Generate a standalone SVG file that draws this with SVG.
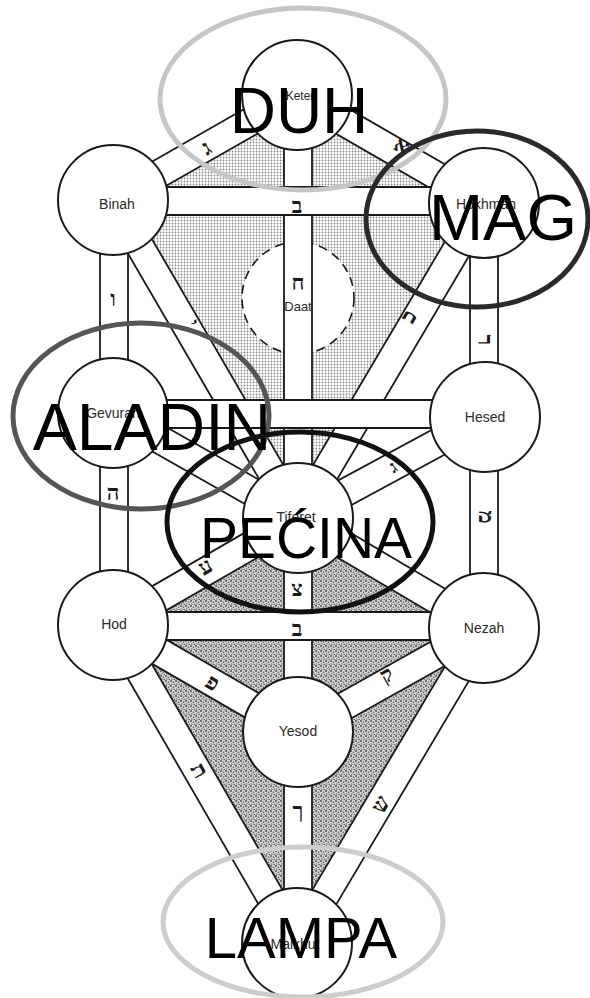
<svg xmlns="http://www.w3.org/2000/svg" width="590" height="998" viewBox="0 0 590 998">
<defs>
<pattern id="dots1" width="3" height="3" patternUnits="userSpaceOnUse"><rect width="3" height="3" fill="#fff"/><circle cx="1.5" cy="1.5" r="0.9" fill="#888"/></pattern>
<pattern id="dots2" width="5" height="5" patternUnits="userSpaceOnUse"><rect width="5" height="5" fill="#d4d4d4"/><circle cx="1" cy="1" r="0.9" fill="#444"/><circle cx="3.5" cy="2.2" r="0.8" fill="#555"/><circle cx="1.8" cy="4" r="0.7" fill="#666"/><circle cx="4.2" cy="4.4" r="0.6" fill="#333"/></pattern>
<style>
.bf{fill:#fff;stroke:none}
.be{stroke:#1a1a1a;stroke-width:1.8;fill:none}
.hb{fill:#fff;stroke:none}
.node{fill:#fff;stroke:#1a1a1a;stroke-width:2}
.lbl{font-family:'Liberation Sans',Arial,sans-serif;font-size:14px;fill:#2a2a2a;text-anchor:middle}
.heb{font-family:'Liberation Serif','DejaVu Sans',serif;font-size:22px;fill:#1a1a1a;text-anchor:middle;font-weight:bold}
.big{font-family:'Liberation Sans',Arial,sans-serif;fill:#000;text-anchor:middle}
.ov{fill:none;stroke-width:5}
</style>
</defs>
<rect width="590" height="998" fill="#fff"/>
<g id="shading">
<polygon points="297,95 484,203 298,518 113,200" fill="url(#dots1)"/>
<polygon points="298,518 484,628 297,943 113,625" fill="url(#dots2)"/>
</g>
<g id="daat">
<circle cx="298" cy="298" r="56" fill="#fff" stroke="#1a1a1a" stroke-width="1.6" stroke-dasharray="9 6"/>
</g>
<g id="connectors">
<g id="connector-fills">
<rect class="bf" x="284" y="95" width="28" height="423"/>
<rect class="bf" x="284" y="518" width="28" height="425"/>
<rect class="bf" x="100" y="200" width="28" height="425"/>
<rect class="bf" x="470" y="203" width="28" height="425"/>
<rect class="bf" x="0" y="-14" width="212" height="28" transform="translate(297,95) rotate(150.28)"/>
<rect class="bf" x="0" y="-14" width="216" height="28" transform="translate(297,95) rotate(30.01)"/>
<rect class="bf" x="0" y="-14" width="368" height="28" transform="translate(113,200) rotate(59.81)"/>
<rect class="bf" x="0" y="-14" width="366" height="28" transform="translate(484,203) rotate(120.56)"/>
<rect class="bf" x="0" y="-14" width="213" height="28" transform="translate(113,413) rotate(29.58)"/>
<rect class="bf" x="0" y="-14" width="213" height="28" transform="translate(485,417) rotate(151.63)"/>
<rect class="bf" x="0" y="-14" width="214" height="28" transform="translate(113,625) rotate(-30.04)"/>
<rect class="bf" x="0" y="-14" width="216" height="28" transform="translate(484,628) rotate(-149.4)"/>
<rect class="bf" x="0" y="-14" width="214" height="28" transform="translate(113,625) rotate(30.04)"/>
<rect class="bf" x="0" y="-14" width="213" height="28" transform="translate(484,628) rotate(150.79)"/>
<rect class="bf" x="0" y="-14" width="367" height="28" transform="translate(113,625) rotate(59.94)"/>
<rect class="bf" x="0" y="-14" width="366" height="28" transform="translate(484,628) rotate(120.69)"/>
</g>
<g id="connector-edges">
<path class="be" d="M284,95V943M312,95V943M100,200V625M128,200V625M470,203V628M498,203V628"/>
<path class="be" d="M0,-14H212M0,14H212" transform="translate(297,95) rotate(150.28)"/>
<path class="be" d="M0,-14H216M0,14H216" transform="translate(297,95) rotate(30.01)"/>
<path class="be" d="M0,-14H368M0,14H368" transform="translate(113,200) rotate(59.81)"/>
<path class="be" d="M0,-14H366M0,14H366" transform="translate(484,203) rotate(120.56)"/>
<path class="be" d="M0,-14H213M0,14H213" transform="translate(113,413) rotate(29.58)"/>
<path class="be" d="M0,-14H213M0,14H213" transform="translate(485,417) rotate(151.63)"/>
<path class="be" d="M0,-14H214M0,14H214" transform="translate(113,625) rotate(-30.04)"/>
<path class="be" d="M0,-14H216M0,14H216" transform="translate(484,628) rotate(-149.4)"/>
<path class="be" d="M0,-14H214M0,14H214" transform="translate(113,625) rotate(30.04)"/>
<path class="be" d="M0,-14H213M0,14H213" transform="translate(484,628) rotate(150.79)"/>
<path class="be" d="M0,-14H367M0,14H367" transform="translate(113,625) rotate(59.94)"/>
<path class="be" d="M0,-14H366M0,14H366" transform="translate(484,628) rotate(120.69)"/>
</g>
<g id="connector-horizontals">
<rect class="hb" x="113" y="187" width="371" height="28"/>
<rect class="hb" x="113" y="400" width="372" height="28"/>
<rect class="hb" x="113" y="612" width="371" height="28"/>
<path class="be" d="M113,187H484M113,215H484M113,400H485M113,428H485M113,612H484M113,640H484"/>
</g>
<g id="path-letters">
<text class="heb" transform="translate(210,154) rotate(-30)">ג</text>
<text class="heb" transform="translate(398,152) rotate(30)">א</text>
<text class="heb" x="297" y="213">ב</text>
<text class="heb" x="113" y="306">ו</text>
<text class="heb" transform="translate(188,326) rotate(60)" style="font-size:18px">י</text>
<text class="heb" transform="translate(415,320) rotate(-60)">כ</text>
<text class="heb" transform="translate(478,340) rotate(90)">ר</text>
<text class="heb" x="113" y="500">ה</text>
<text class="heb" transform="translate(479,517) rotate(90)">מ</text>
<text class="heb" transform="translate(396,472) rotate(-30)" style="font-size:18px">ג</text>
<text class="heb" transform="translate(209,573) rotate(-30)">ע</text>
<text class="heb" x="297" y="596">צ</text>
<text class="heb" x="297" y="636">ב</text>
<text class="heb" transform="translate(209,689) rotate(30)">פ</text>
<text class="heb" transform="translate(390,681) rotate(-30)">ק</text>
<text class="heb" transform="translate(193,774) rotate(60)">ת</text>
<text class="heb" transform="translate(387,808) rotate(-60)">ש</text>
<text class="heb" x="298" y="818">ך</text>
</g>
</g>
<g id="keter"><circle class="node" cx="297" cy="95" r="55"/><text class="lbl" x="300" y="100" style="font-size:12px">Keter</text></g>
<g id="binah"><circle class="node" cx="113" cy="200" r="55"/><text class="lbl" x="117" y="209">Binah</text></g>
<g id="hokhmah"><circle class="node" cx="484" cy="203" r="55"/><text class="lbl" x="486" y="209">Hokhmah</text></g>
<g id="daat-label"><text class="heb" x="298" y="290">ח</text><text class="lbl" x="298" y="311" style="font-size:13px">Daat</text></g>
<g id="gevurah"><circle class="node" cx="113" cy="413" r="55"/><text class="lbl" x="113" y="418">Gevurah</text></g>
<g id="hesed"><circle class="node" cx="485" cy="417" r="55"/><text class="lbl" x="485" y="422">Hesed</text></g>
<g id="tiferet"><circle class="node" cx="298" cy="518" r="55"/><text class="lbl" x="296" y="522">Tiferet</text></g>
<g id="hod"><circle class="node" cx="113" cy="625" r="55"/><text class="lbl" x="114" y="629">Hod</text></g>
<g id="nezah"><circle class="node" cx="484" cy="628" r="55"/><text class="lbl" x="484" y="633">Nezah</text></g>
<g id="yesod"><circle class="node" cx="298" cy="732" r="55"/><text class="lbl" x="298" y="736">Yesod</text></g>
<g id="malkhut"><circle class="node" cx="297" cy="943" r="55"/><text class="lbl" x="295" y="949">Malkhut</text></g>
<g id="overlays">
<g id="duh"><ellipse class="ov" cx="303" cy="99" rx="143" ry="91" stroke="#c6c6c6"/><text class="big" x="299" y="133" font-size="64">DUH</text></g>
<g id="mag"><ellipse class="ov" cx="477" cy="219" rx="111" ry="88" stroke="#2a2a2a"/><text class="big" x="503" y="240" font-size="65">MAG</text></g>
<g id="aladin"><ellipse class="ov" cx="141" cy="416" rx="128" ry="93" stroke="#555"/><text class="big" x="152" y="450" font-size="66">ALADIN</text></g>
<g id="pecina"><ellipse class="ov" cx="300" cy="522" rx="133" ry="90" stroke="#111" stroke-width="4.5"/><text class="big" x="306" y="558" font-size="57">PEĆINA</text></g>
<g id="lampa"><ellipse class="ov" cx="303" cy="922" rx="140" ry="75" stroke="#cdcdcd"/><text class="big" x="301" y="958" font-size="58">LAMPA</text></g>
</g>
</svg>
